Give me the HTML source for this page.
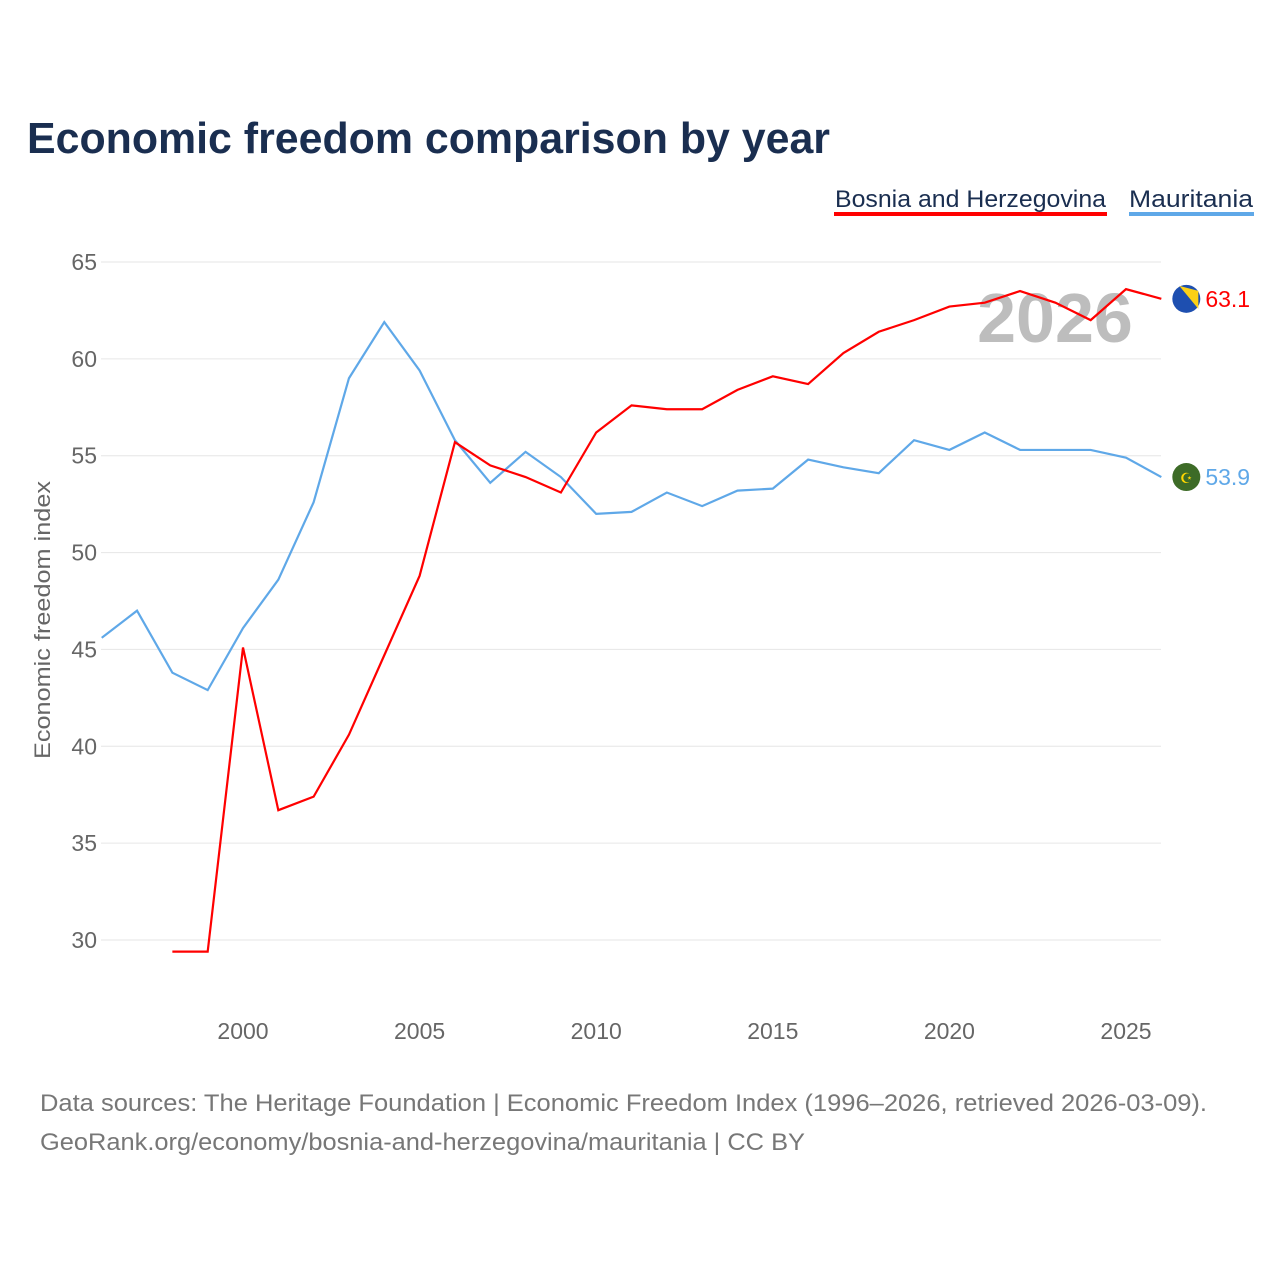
<!DOCTYPE html>
<html><head><meta charset="utf-8">
<style>
body{margin:0;background:#fff;font-family:"Liberation Sans",sans-serif;}
#wrap{position:relative;width:1280px;height:1280px;overflow:hidden;}
</style></head>
<body>
<div id="wrap">
<svg id="chart" width="1280" height="1280">
<text x="27" y="153" font-size="44" font-weight="bold" fill="#1a2e50" textLength="803" lengthAdjust="spacingAndGlyphs">Economic freedom comparison by year</text>
<g>
<text x="835" y="207" font-size="24" fill="#1a2e50" textLength="271" lengthAdjust="spacingAndGlyphs">Bosnia and Herzegovina</text>
<rect x="834" y="212" width="273" height="4" fill="#ff0000"/>
<text x="1129" y="207" font-size="24" fill="#1a2e50" textLength="124" lengthAdjust="spacingAndGlyphs">Mauritania</text>
<rect x="1129" y="212" width="125" height="4" fill="#5fa8e8"/>
</g>
<g id="grid"></g>
<text x="1055" y="342" font-size="70" font-weight="bold" fill="#bdbdbd" text-anchor="middle">2026</text>
<g id="series"></g>
<text transform="translate(50,620) rotate(-90)" font-size="22" fill="#666" text-anchor="middle" textLength="278" lengthAdjust="spacingAndGlyphs">Economic freedom index</text>
<text x="40" y="1111" font-size="24" fill="#777" textLength="1167" lengthAdjust="spacingAndGlyphs">Data sources: The Heritage Foundation | Economic Freedom Index (1996–2026, retrieved 2026-03-09).</text>
<text x="40" y="1150" font-size="24" fill="#777" textLength="765" lengthAdjust="spacingAndGlyphs">GeoRank.org/economy/bosnia-and-herzegovina/mauritania | CC BY</text>
</svg>
</div>
<script>
const yTicks=[30,35,40,45,50,55,60,65];
const xTicks=[2000,2005,2010,2015,2020,2025];
const mauYears=[1996,1997,1998,1999,2000,2001,2002,2003,2004,2005,2006,2007,2008,2009,2010,2011,2012,2013,2014,2015,2016,2017,2018,2019,2020,2021,2022,2023,2024,2025,2026];
const mauValues=[45.6,47.0,43.8,42.9,46.1,48.6,52.6,59.0,61.9,59.4,55.8,53.6,55.2,53.9,52.0,52.1,53.1,52.4,53.2,53.3,54.8,54.4,54.1,55.8,55.3,56.2,55.3,55.3,55.3,54.9,53.9];
const bihYears=[1998,1999,2000,2001,2002,2003,2004,2005,2006,2007,2008,2009,2010,2011,2012,2013,2014,2015,2016,2017,2018,2019,2020,2021,2022,2023,2024,2025,2026];
const bihValues=[29.4,29.4,45.1,36.7,37.4,40.6,44.7,48.8,55.7,54.5,53.9,53.1,56.2,57.6,57.4,57.4,58.4,59.1,58.7,60.3,61.4,62.0,62.7,62.9,63.5,62.9,62.0,63.6,63.1];
const NS="http://www.w3.org/2000/svg";
const x=v=>243+(v-2000)*35.32;
const y=v=>940-(v-30)*19.371;
function mk(tag,attrs,parent){const e=document.createElementNS(NS,tag);for(const k in attrs)e.setAttribute(k,attrs[k]);parent.appendChild(e);return e;}
const grid=document.getElementById('grid');
yTicks.forEach(t=>{
 const l=mk('line',{x1:101,x2:1161,y1:y(t),y2:y(t),stroke:'#e6e6e6','stroke-width':1},grid);
 
 
 const tx=mk('text',{x:97,y:y(t)+8,'font-size':23,fill:'#666','text-anchor':'end'},grid);
 tx.textContent=t;
 
 
});
xTicks.forEach(t=>{
 const tx=mk('text',{x:x(t),y:1039,'font-size':23,fill:'#666','text-anchor':'middle'},grid);
 tx.textContent=t;
 
 
});
const s=document.getElementById('series');
function line(yrs,vals,color,name){
 const p=mk('polyline',{points:yrs.map((yr,i)=>x(yr)+','+y(vals[i])).join(' '),fill:'none',stroke:color,'stroke-width':2.2},s);
 
 
 const last=vals[vals.length-1], ly=yrs[yrs.length-1];
 const c=mk('circle',{cx:x(ly)+25,cy:y(last),r:14,fill:name==='bosnia'?'#1e4fb0':'#3d6b27'},s);
 
 
 if(name==='bosnia'){const h=mk('path',{d:`M${x(ly)+18},${y(last)-13} L${x(ly)+37},${y(last)-8} L${x(ly)+37},${y(last)+10} Z`,fill:'#fcd116'},s);
  
  }
 else{const h=mk('text',{x:x(ly)+25,y:y(last)+6,'font-size':14,fill:'#ffd700','text-anchor':'middle'},s);h.textContent='☪';
  
  }
 const t=mk('text',{x:x(ly)+44,y:y(last)+8,'font-size':23,fill:color},s);
 t.textContent=last.toFixed(1);
 
 
}
line(mauYears,mauValues,'#5fa8e8','mauritania');
line(bihYears,bihValues,'#ff0000','bosnia');
</script>
</body></html>
